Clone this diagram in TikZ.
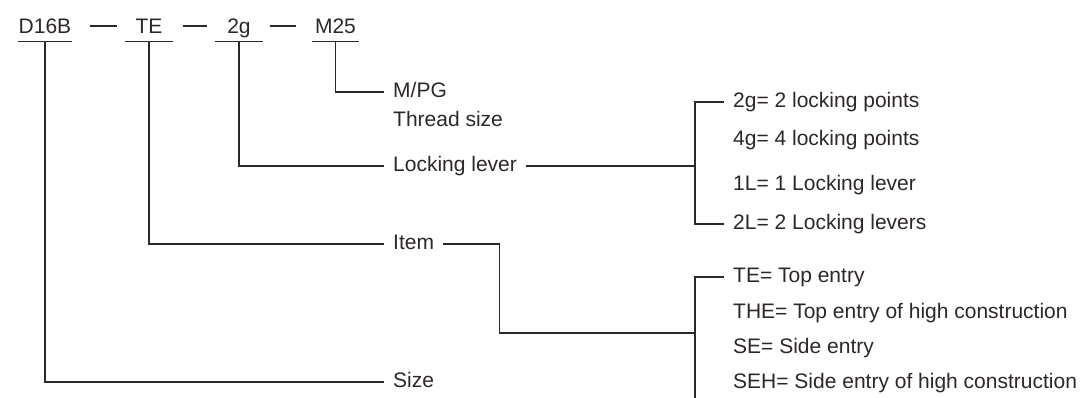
\documentclass[tikz,border=0pt]{standalone}
\usepackage{fontspec}
\setmainfont{Liberation Sans}
\usetikzlibrary{positioning}
\definecolor{ink}{RGB}{45,40,38}

\begin{document}
\begin{tikzpicture}[
    x=1pt, y=-1pt,
    every node/.style={font=\fontsize{21}{25}\selectfont, text=ink},
    code/.style={anchor=base, inner xsep=1pt, inner ysep=2pt, minimum width=47pt, text height=15pt, text depth=5pt},
    leaf/.style={anchor=west, inner xsep=9pt, inner ysep=0pt, text height=15pt, text depth=4pt},
    wire/.style={draw=ink, line width=1.3pt},
]
  \useasboundingbox (0,0) rectangle (1087,398);

  % type code
  \node[code] (d16b) at (45,34) {D16B};
  \node[code] (te) at (149,34) {TE};
  \node[code] (lock) at (239,34) {2g};
  \node[code] (m25) at (335.5,34) {M25};
  \foreach \n in {d16b, te, lock, m25}
    \draw[wire] (\n.south west) -- (\n.south east);
  \draw[wire] ([xshift=18pt,yshift=3pt]d16b.east) -- ([xshift=-8pt,yshift=3pt]te.west);
  \draw[wire] ([xshift=10pt,yshift=3pt]te.east) -- ([xshift=-8pt,yshift=3pt]lock.west);
  \draw[wire] ([xshift=7pt,yshift=3pt]lock.east) -- ([xshift=-16pt,yshift=3pt]m25.west);

  % meanings
  \node[leaf] (mpg) at (384,92) {M/PG};
  \node[leaf] (thread) at (384,121) {Thread size};
  \node[leaf] (lever) at (384,166) {Locking lever};
  \node[leaf] (item) at (384,244) {Item};
  \node[leaf] (size) at (384,382) {Size};

  % locking options
  \node[leaf] (opt2g) at (724,102) {2g= 2 locking points};
  \node[leaf] (opt4g) at (724,140) {4g= 4 locking points};
  \node[leaf] (opt1L) at (724,185) {1L= 1 Locking lever};
  \node[leaf] (opt2L) at (724,224) {2L= 2 Locking levers};

  % item options
  \node[leaf] (optTE) at (724,277) {TE= Top entry};
  \node[leaf] (optTHE) at (724,313) {THE= Top entry of high construction};
  \node[leaf] (optSE) at (724,348) {SE= Side entry};
  \node[leaf] (optSEH) at (724,383) {SEH= Side entry of high construction};

  \coordinate (lb) at (695,166);
  \coordinate (ib) at (695,333);
  \coordinate (iend) at (695,398);

  \draw[wire] (m25.south) |- (mpg.west);
  \draw[wire] (lock.south) |- (lever.west);
  \draw[wire] (te.south) |- (item.west);
  \draw[wire] (d16b.south) |- (size.west);

  \draw[wire] (lever.east) -- (lb);
  \draw[wire] (opt2g.west) -| (lb) |- (opt2L.west);
  \draw[wire] (item.east) -- ++(56,0) |- (ib);
  \draw[wire] (optTE.west) -| (iend);
\end{tikzpicture}
\end{document}
